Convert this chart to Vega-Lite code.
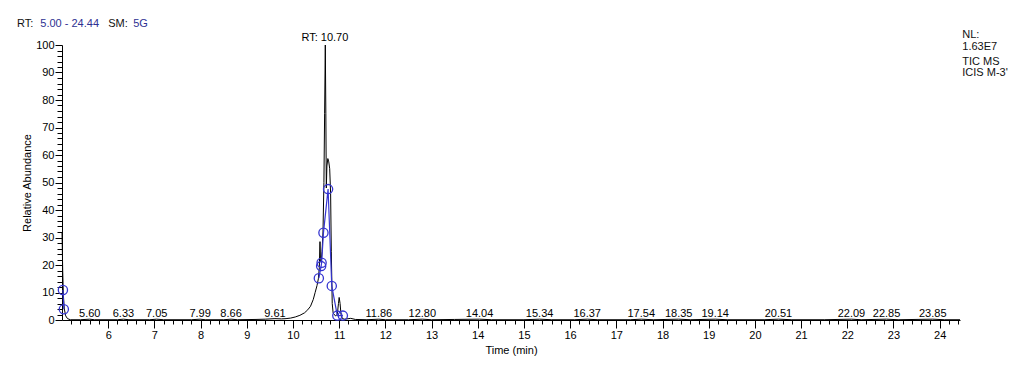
{
  "$schema": "https://vega.github.io/schema/vega-lite/v6.json",
  "width": 898,
  "height": 275,
  "autosize": {"type": "none"},
  "padding": {"left": 62, "top": 45, "right": 64, "bottom": 49},
  "background": "white",
  "config": {
    "view": {"stroke": null},
    "font": "Liberation Sans",
    "axis": {"domainColor": "#000", "tickColor": "#000", "labelColor": "#000", "titleColor": "#000", "labelFont": "Liberation Sans", "titleFont": "Liberation Sans", "labelFontSize": 11, "titleFontSize": 11, "titleFontWeight": "normal", "grid": false, "domainWidth": 1, "tickWidth": 1, "labelFlush": false, "labelOverlap": false, "labelBound": false}
  },
  "datasets": {
    "tic": [
      {"t": 5.00, "v": 31.7}, {"t": 5.005, "v": 28}, {"t": 5.015, "v": 18}, {"t": 5.03, "v": 9}, {"t": 5.05, "v": 4}, {"t": 5.08, "v": 1.5}, {"t": 5.12, "v": 0.5}, {"t": 5.18, "v": 0.1},
      {"t": 5.4, "v": 0.1}, {"t": 5.6, "v": 0.3}, {"t": 5.7, "v": 0.1}, {"t": 6.2, "v": 0.1}, {"t": 6.33, "v": 0.3}, {"t": 6.45, "v": 0.1}, {"t": 6.9, "v": 0.1}, {"t": 7.05, "v": 0.3}, {"t": 7.2, "v": 0.1},
      {"t": 7.8, "v": 0.1}, {"t": 7.99, "v": 0.3}, {"t": 8.1, "v": 0.1}, {"t": 8.5, "v": 0.1}, {"t": 8.66, "v": 0.3}, {"t": 8.8, "v": 0.1}, {"t": 9.2, "v": 0.2}, {"t": 9.4, "v": 0.3}, {"t": 9.61, "v": 0.5},
      {"t": 9.75, "v": 0.4}, {"t": 9.85, "v": 0.5}, {"t": 9.95, "v": 0.7}, {"t": 10.05, "v": 1.1}, {"t": 10.15, "v": 1.7}, {"t": 10.25, "v": 2.6}, {"t": 10.32, "v": 3.7}, {"t": 10.38, "v": 5.0},
      {"t": 10.44, "v": 7.5}, {"t": 10.48, "v": 10}, {"t": 10.52, "v": 12.5}, {"t": 10.55, "v": 15}, {"t": 10.57, "v": 19}, {"t": 10.585, "v": 28.5}, {"t": 10.595, "v": 22}, {"t": 10.61, "v": 21},
      {"t": 10.63, "v": 25}, {"t": 10.65, "v": 32}, {"t": 10.67, "v": 50}, {"t": 10.685, "v": 75}, {"t": 10.70, "v": 100}, {"t": 10.712, "v": 75}, {"t": 10.722, "v": 48}, {"t": 10.735, "v": 56},
      {"t": 10.755, "v": 58.7}, {"t": 10.775, "v": 57.5}, {"t": 10.795, "v": 55}, {"t": 10.815, "v": 46}, {"t": 10.83, "v": 25}, {"t": 10.85, "v": 6}, {"t": 10.87, "v": 2.5}, {"t": 10.92, "v": 1.5},
      {"t": 10.96, "v": 2}, {"t": 10.985, "v": 6}, {"t": 11.0, "v": 8.2}, {"t": 11.02, "v": 6}, {"t": 11.04, "v": 2}, {"t": 11.07, "v": 0.5}, {"t": 11.12, "v": 0.3}, {"t": 11.25, "v": 0.6}, {"t": 11.35, "v": 0.2},
      {"t": 11.6, "v": 0.1}, {"t": 11.86, "v": 0.3}, {"t": 12.0, "v": 0.1}, {"t": 12.5, "v": 0.1}, {"t": 12.8, "v": 0.3}, {"t": 13.0, "v": 0.1}, {"t": 13.5, "v": 0.2}, {"t": 14.04, "v": 0.3}, {"t": 14.3, "v": 0.1},
      {"t": 15.0, "v": 0.1}, {"t": 15.34, "v": 0.3}, {"t": 15.6, "v": 0.1}, {"t": 16.1, "v": 0.1}, {"t": 16.37, "v": 0.3}, {"t": 16.6, "v": 0.1}, {"t": 17.3, "v": 0.1}, {"t": 17.54, "v": 0.3}, {"t": 17.8, "v": 0.1},
      {"t": 18.35, "v": 0.3}, {"t": 18.6, "v": 0.1}, {"t": 19.14, "v": 0.3}, {"t": 19.4, "v": 0.1}, {"t": 20.2, "v": 0.1}, {"t": 20.51, "v": 0.3}, {"t": 20.8, "v": 0.1}, {"t": 21.5, "v": 0.1},
      {"t": 22.09, "v": 0.3}, {"t": 22.3, "v": 0.1}, {"t": 22.85, "v": 0.3}, {"t": 23.1, "v": 0.1}, {"t": 23.85, "v": 0.3}, {"t": 24.1, "v": 0.1}, {"t": 24.44, "v": 0.1}
    ],
    "icis": [
      {"t": 5.02, "v": 10.9, "g": "a"}, {"t": 5.04, "v": 3.9, "g": "a"},
      {"t": 10.56, "v": 15.2, "g": "b"}, {"t": 10.61, "v": 19.6, "g": "b"}, {"t": 10.62, "v": 20.8, "g": "b"}, {"t": 10.66, "v": 31.7, "g": "b"},
      {"t": 10.76, "v": 47.6, "g": "b"}, {"t": 10.84, "v": 12.4, "g": "b"}, {"t": 10.96, "v": 1.6, "g": "b"}, {"t": 11.08, "v": 1.6, "g": "b"}
    ],
    "peaklabels": [
      {"t": 5.60, "v": 1.1, "label": "5.60"}, {"t": 6.33, "v": 1.1, "label": "6.33"}, {"t": 7.05, "v": 1.1, "label": "7.05"}, {"t": 7.99, "v": 1.1, "label": "7.99"},
      {"t": 8.66, "v": 1.1, "label": "8.66"}, {"t": 9.61, "v": 1.1, "label": "9.61"}, {"t": 11.86, "v": 1.1, "label": "11.86"}, {"t": 12.80, "v": 1.1, "label": "12.80"},
      {"t": 14.04, "v": 1.1, "label": "14.04"}, {"t": 15.34, "v": 1.1, "label": "15.34"}, {"t": 16.37, "v": 1.1, "label": "16.37"}, {"t": 17.54, "v": 1.1, "label": "17.54"},
      {"t": 18.35, "v": 1.1, "label": "18.35"}, {"t": 19.14, "v": 1.1, "label": "19.14"}, {"t": 20.51, "v": 1.1, "label": "20.51"}, {"t": 22.09, "v": 1.1, "label": "22.09"},
      {"t": 22.85, "v": 1.1, "label": "22.85"}, {"t": 23.85, "v": 1.1, "label": "23.85"}, {"t": 10.69, "v": 101.5, "label": "RT: 10.70"}
    ],
    "notes": [
      {"t": 4.025, "v": 107.5, "label": "RT:", "tone": "black"},
      {"t": 4.53, "v": 107.5, "label": "5.00 - 24.44", "tone": "blue"},
      {"t": 6.0, "v": 107.5, "label": "SM:", "tone": "black"},
      {"t": 6.54, "v": 107.5, "label": "5G", "tone": "blue"},
      {"t": 24.49, "v": 103.6, "label": "NL:", "tone": "black"},
      {"t": 24.49, "v": 99.3, "label": "1.63E7", "tone": "black"},
      {"t": 24.49, "v": 93.8, "label": "TIC  MS", "tone": "black"},
      {"t": 24.49, "v": 89.8, "label": "ICIS M-3'", "tone": "black"}
    ]
  },
  "layer": [
    {
      "data": {"name": "tic"},
      "mark": {"type": "line", "color": "#000000", "strokeWidth": 1, "clip": false},
      "encoding": {
        "x": {"field": "t", "type": "quantitative", "scale": {"domain": [5, 24.44], "nice": false, "zero": false},
          "axis": {"orient": "bottom", "title": "Time (min)", "titlePadding": 4, "labelPadding": 1, "tickSize": 8,
            "values": [6,7,8,9,10,11,12,13,14,15,16,17,18,19,20,21,22,23,24]}},
        "y": {"field": "v", "type": "quantitative", "scale": {"domain": [0, 100], "nice": false, "zero": false},
          "axis": {"orient": "left", "title": "Relative Abundance", "titlePadding": 3, "labelPadding": 1, "tickSize": 7,
            "values": [0,10,20,30,40,50,60,70,80,90,100]}}
      }
    },
    {
      "data": {"name": "icis"},
      "mark": {"type": "line", "color": "#3535d0", "strokeWidth": 1.2},
      "encoding": {
        "x": {"field": "t", "type": "quantitative", "scale": {"domain": [5, 24.44], "nice": false, "zero": false},
          "axis": {"orient": "bottom", "title": null, "labels": false, "domain": false, "tickSize": 4,
            "values": [5.2,5.4,5.6,5.8,6.2,6.4,6.6,6.8,7.2,7.4,7.6,7.8,8.2,8.4,8.6,8.8,9.2,9.4,9.6,9.8,10.2,10.4,10.6,10.8,11.2,11.4,11.6,11.8,12.2,12.4,12.6,12.8,13.2,13.4,13.6,13.8,14.2,14.4,14.6,14.8,15.2,15.4,15.6,15.8,16.2,16.4,16.6,16.8,17.2,17.4,17.6,17.8,18.2,18.4,18.6,18.8,19.2,19.4,19.6,19.8,20.2,20.4,20.6,20.8,21.2,21.4,21.6,21.8,22.2,22.4,22.6,22.8,23.2,23.4,23.6,23.8,24.2,24.4]}},
        "y": {"field": "v", "type": "quantitative", "scale": {"domain": [0, 100], "nice": false, "zero": false},
          "axis": {"orient": "left", "title": null, "labels": false, "domain": false, "tickSize": 5,
            "values": [2,4,6,8,12,14,16,18,22,24,26,28,32,34,36,38,42,44,46,48,52,54,56,58,62,64,66,68,72,74,76,78,82,84,86,88,92,94,96,98]}},
        "detail": {"field": "g"}
      }
    },
    {
      "data": {"name": "icis"},
      "mark": {"type": "point", "shape": "circle", "filled": false, "color": "#3535d0", "size": 85, "strokeWidth": 1.3, "opacity": 1},
      "encoding": {
        "x": {"field": "t", "type": "quantitative", "scale": {"domain": [5, 24.44], "nice": false, "zero": false}, "axis": null},
        "y": {"field": "v", "type": "quantitative", "scale": {"domain": [0, 100], "nice": false, "zero": false}, "axis": null}
      }
    },
    {
      "data": {"name": "peaklabels"},
      "mark": {"type": "text", "align": "center", "baseline": "alphabetic", "fontSize": 11, "color": "#000", "font": "Liberation Sans"},
      "encoding": {
        "x": {"field": "t", "type": "quantitative", "scale": {"domain": [5, 24.44], "nice": false, "zero": false}, "axis": null},
        "y": {"field": "v", "type": "quantitative", "scale": {"domain": [0, 100], "nice": false, "zero": false}, "axis": null},
        "text": {"field": "label"}
      }
    },
    {
      "data": {"name": "notes"},
      "mark": {"type": "text", "align": "left", "baseline": "middle", "fontSize": 11, "font": "Liberation Sans"},
      "encoding": {
        "x": {"field": "t", "type": "quantitative", "scale": {"domain": [5, 24.44], "nice": false, "zero": false}, "axis": null},
        "y": {"field": "v", "type": "quantitative", "scale": {"domain": [0, 100], "nice": false, "zero": false}, "axis": null},
        "text": {"field": "label"},
        "color": {"field": "tone", "type": "nominal", "scale": {"domain": ["black", "blue"], "range": ["#111111", "#2e3192"]}, "legend": null}
      }
    }
  ],
  "resolve": {"axis": {"x": "independent", "y": "independent"}}
}
